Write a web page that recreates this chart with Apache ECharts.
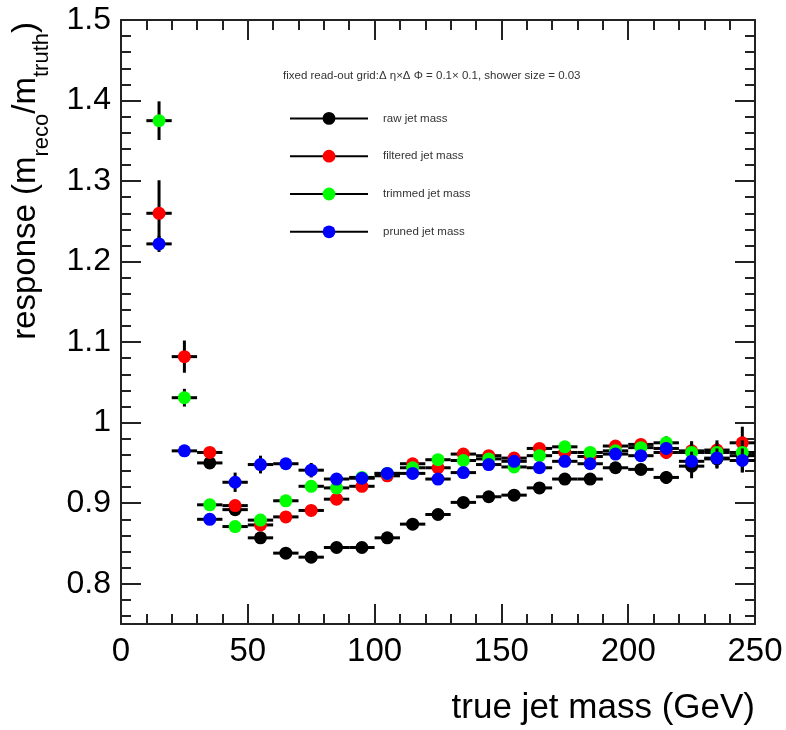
<!DOCTYPE html>
<html>
<head>
<meta charset="utf-8">
<script src="https://cdn.jsdelivr.net/npm/echarts@6/dist/echarts.min.js"></script>
<style>
  html, body { margin: 0; padding: 0; background: #fff; }
  #chart { width: 786px; height: 730px; }
</style>
</head>
<body>
<div id="chart"></div>
<script>
// bin centres (GeV), 10 GeV wide bins
const massBins = [15, 25, 35, 45, 55, 65, 75, 85, 95, 105, 115, 125, 135, 145, 155, 165, 175, 185, 195, 205, 215, 225, 235, 245];
const binHalfWidth = 5;

// response values (null = off scale)
const rawMass      = [null, null, 0.950, 0.892, 0.857, 0.838, 0.833, 0.845, 0.845, 0.857, 0.874, 0.886, 0.901, 0.908, 0.910, 0.919, 0.930, 0.930, 0.944, 0.942, 0.932, 0.946, 0.955, 0.959];
const filteredMass = [1.260, 1.082, 0.963, 0.897, 0.873, 0.883, 0.891, 0.905, 0.921, 0.934, 0.949, 0.944, 0.961, 0.959, 0.956, 0.968, 0.963, 0.958, 0.971, 0.973, 0.963, 0.965, 0.966, 0.975];
const trimmedMass  = [1.375, 1.031, 0.898, 0.871, 0.879, 0.903, 0.921, 0.919, 0.932, 0.937, 0.944, 0.954, 0.953, 0.955, 0.945, 0.959, 0.970, 0.963, 0.965, 0.969, 0.975, 0.963, 0.963, 0.963];
const prunedMass   = [1.222, 0.965, 0.880, 0.926, 0.948, 0.949, 0.941, 0.930, 0.931, 0.937, 0.937, 0.930, 0.938, 0.948, 0.952, 0.944, 0.952, 0.949, 0.961, 0.959, 0.968, 0.952, 0.956, 0.953];

// vertical error bars
const rawErr      = [null, null, 0.005, 0.006, 0.005, 0.005, 0.005, 0.005, 0.005, 0.005, 0.005, 0.005, 0.005, 0.005, 0.005, 0.005, 0.006, 0.006, 0.006, 0.007, 0.008, 0.015, 0.012, 0.020];
const filteredErr = [0.041, 0.020, 0.005, 0.006, 0.005, 0.005, 0.005, 0.005, 0.005, 0.005, 0.005, 0.005, 0.005, 0.005, 0.005, 0.006, 0.006, 0.006, 0.006, 0.007, 0.008, 0.012, 0.012, 0.020];
const trimmedErr  = [0.024, 0.011, 0.005, 0.006, 0.005, 0.005, 0.005, 0.005, 0.005, 0.005, 0.005, 0.005, 0.005, 0.005, 0.005, 0.006, 0.006, 0.006, 0.006, 0.007, 0.008, 0.012, 0.012, 0.015];
const prunedErr   = [0.010, 0.007, 0.005, 0.012, 0.011, 0.006, 0.009, 0.006, 0.005, 0.005, 0.005, 0.005, 0.005, 0.005, 0.005, 0.006, 0.006, 0.006, 0.006, 0.007, 0.008, 0.012, 0.012, 0.015];

const seriesNames  = ['raw jet mass', 'filtered jet mass', 'trimmed jet mass', 'pruned jet mass'];
const seriesColors = ['#000000', '#ff0000', '#00ff00', '#0000ff'];
const seriesValues = [rawMass, filteredMass, trimmedMass, prunedMass];
const seriesErrors = [rawErr, filteredErr, trimmedErr, prunedErr];

// y axis tick labels
const yMajorTicks = [0.8, 0.9, 1, 1.1, 1.2, 1.3, 1.4, 1.5];
const yMinorTicks = [];
for (let k = 38; k <= 74; k++) {
    if (k % 5 !== 0) yMinorTicks.push(Math.round(k * 2) / 100);
}

const FONT = '"Liberation Sans", Arial, Helvetica, sans-serif';
const AX = '#222';

var chartDom = document.getElementById('chart');
var myChart = echarts.init(chartDom);

function xAxisCfg(pos, showLabel) {
    return {
        type: 'value', min: 0, max: 250, interval: 50, position: pos,
        axisLine: { show: true, onZero: false, lineStyle: { color: AX, width: 2 } },
        axisTick: { show: true, inside: true, length: 20, lineStyle: { color: AX, width: 2 } },
        minorTick: { show: true, splitNumber: 5, length: 10, lineStyle: { color: AX, width: 2 } },
        axisLabel: { show: showLabel, fontSize: 33, fontFamily: FONT, color: '#000', margin: 11, showMinLabel: true, showMaxLabel: true },
        splitLine: { show: false }
    };
}

function yAxisCfg(pos, ticks, len, showLine, showLabel) {
    return {
        type: 'value', min: 0.75, max: 1.5, position: pos, offset: 0,
        axisLine: { show: showLine, onZero: false, lineStyle: { color: AX, width: 2 } },
        axisTick: { show: true, inside: true, length: len, customValues: ticks, lineStyle: { color: AX, width: 2 } },
        axisLabel: {
            show: showLabel, customValues: ticks, fontSize: 32, fontFamily: FONT, color: '#000', margin: 10,
            formatter: function (v) { return String(Math.round(v * 10) / 10); }
        },
        splitLine: { show: false }
    };
}

// error bars: +-5 GeV horizontally, +-err vertically
function errorBars(params, api) {
    var x = api.value(0), y = api.value(1), e = api.value(2);
    var c = api.coord([x, y]);
    var l = api.coord([x - binHalfWidth, y]);
    var r = api.coord([x + binHalfWidth, y]);
    var t = api.coord([x, y + e]);
    var b = api.coord([x, y - e]);
    var st = { stroke: '#000', lineWidth: 3 };
    return {
        type: 'group',
        children: [
            { type: 'line', shape: { x1: l[0], y1: c[1], x2: r[0], y2: c[1] }, style: st },
            { type: 'line', shape: { x1: c[0], y1: t[1], x2: c[0], y2: b[1] }, style: st }
        ]
    };
}

var series = [];
seriesNames.forEach(function (name, i) {
    var pts = [], errs = [];
    massBins.forEach(function (m, j) {
        if (seriesValues[i][j] === null) return;
        pts.push([m, seriesValues[i][j]]);
        errs.push([m, seriesValues[i][j], seriesErrors[i][j]]);
    });
    series.push({
        name: name + ' err', type: 'custom', renderItem: errorBars, data: errs,
        encode: { x: 0, y: 1 }, z: 2 + 2 * i, silent: true
    });
    series.push({
        name: name, type: 'line', data: pts, z: 3 + 2 * i,
        symbol: 'circle', symbolSize: 13, showSymbol: true, showAllSymbol: true,
        itemStyle: { color: seriesColors[i] },
        lineStyle: { width: 0, opacity: 0 },
        silent: true
    });
});

var option = {
    animation: false,
    backgroundColor: '#fff',
    grid: { left: 121, right: 31, top: 20, bottom: 106, containLabel: false },
    title: {
        text: 'fixed read-out grid:\u0394 \u03b7\u00d7\u0394 \u03a6 = 0.1\u00d7 0.1, shower size = 0.03',
        left: 283, top: 70, padding: 0,
        textStyle: { fontSize: 11.5, fontWeight: 'normal', fontFamily: FONT, color: '#333' }
    },
    legend: {
        data: seriesNames, orient: 'vertical', left: 289, top: 112, padding: 0,
        itemWidth: 78, itemHeight: 16, itemGap: 25, selectedMode: false,
        lineStyle: { color: '#000', width: 2, opacity: 1 },
        textStyle: { fontSize: 11.5, fontFamily: FONT, color: '#333', padding: [0, 0, 0, 10] }
    },
    xAxis: [xAxisCfg('bottom', true), xAxisCfg('top', false)],
    yAxis: [
        yAxisCfg('left', yMajorTicks, 20, true, true),
        yAxisCfg('left', yMinorTicks, 10, false, false),
        yAxisCfg('right', yMajorTicks, 20, true, false),
        yAxisCfg('right', yMinorTicks, 10, false, false)
    ],
    graphic: [
        {
            type: 'text', x: 755, y: 708,
            style: { text: 'true jet mass (GeV)', fontSize: 35, fontFamily: FONT, fill: '#000', align: 'right', verticalAlign: 'middle' }
        },
        {
            type: 'text', x: 31, y: 22, rotation: Math.PI / 2,
            style: {
                text: '{a|response (m}{b|reco}{a|/m}{b|truth}{a|)}',
                align: 'right', verticalAlign: 'middle', fill: '#000',
                rich: {
                    a: { fontSize: 33, fontFamily: FONT, lineHeight: 44, verticalAlign: 'top', fill: '#000' },
                    b: { fontSize: 22, fontFamily: FONT, lineHeight: 22, verticalAlign: 'bottom', fill: '#000' }
                }
            }
        }
    ],
    series: series
};

myChart.setOption(option);
window.addEventListener('resize', () => myChart.resize());
</script>
</body>
</html>
